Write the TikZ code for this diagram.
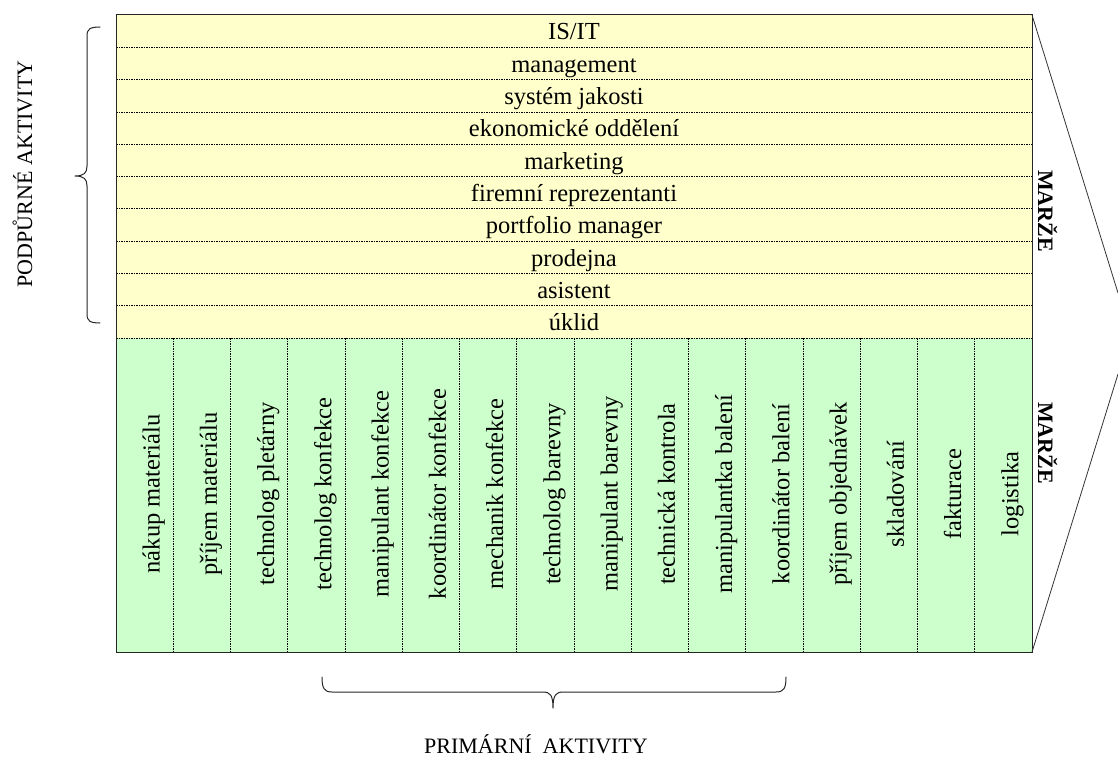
\documentclass[tikz,border=0pt]{standalone}
\usepackage{fontspec}
\setmainfont{Liberation Serif}
\definecolor{suppfill}{HTML}{FFFFCC}
\definecolor{primfill}{HTML}{CCFFCC}
\begin{document}
\begin{tikzpicture}[x=1pt,y=-1pt,
  sep/.style={dash pattern=on 1.5pt off 1pt, line width=0.7pt},
  rowtext/.style={anchor=base, font=\fontsize{24.5}{28}\selectfont, inner sep=0pt},
  coltext/.style={rowtext, rotate=90},
  marze/.style={anchor=base, rotate=-90, font=\fontsize{22}{26}\selectfont\bfseries, inner sep=0pt},
  sidetext/.style={anchor=base, font=\fontsize{22}{26}\selectfont, inner sep=0pt},
  bracepath/.style={line width=1pt, line join=round, line cap=round, draw=black!85},
  chev/.style={line width=0.8pt, draw=black!80}]
\useasboundingbox (0,0) rectangle (1118,757);
% fills
\fill[suppfill] (116,15) rectangle (1032,338);
\fill[primfill] (116,338) rectangle (1032,652);
% separators
\foreach \i in {1,...,10} \draw[sep] (116,15+32.3*\i) -- (1032,15+32.3*\i);
\foreach \i in {1,...,15} \draw[sep] (116+57.25*\i,338) -- (116+57.25*\i,652);
% frame
\draw[line width=1pt, draw=black!85] (116,15) rectangle (1032,652);
% support activities
\foreach [count=\i from 0] \t in {IS/IT, management, systém jakosti, ekonomické oddělení, marketing, firemní reprezentanti, portfolio manager, prodejna, asistent, úklid}
  \node[rowtext] (s\i) at (574,15+32.3*\i+25) {\t};
% primary activities
\foreach [count=\i from 0] \t in {nákup materiálu, příjem materiálu, technolog pletárny, technolog konfekce, manipulant konfekce, koordinátor konfekce, mechanik konfekce, technolog barevny, manipulant barevny, technická kontrola, manipulantka balení, koordinátor balení, příjem objednávek, skladování, fakturace, logistika}
  \node[coltext] (p\i) at (116+57.25*\i+28.6+15,494) {\t};
% margin labels
\node[marze] (m1) at (1038,211) {MARŽE};
\node[marze] (m2) at (1038,443) {MARŽE};
% chevron
\coordinate (c1) at (1032,15);
\coordinate (c2) at (1118,293);
\coordinate (c3) at (1118,374);
\coordinate (c4) at (1032,652);
\draw[chev] (c1) -- (c2);
\draw[chev] (c3) -- (c4);
% left brace
\draw[bracepath] (100,27) .. controls (90,27) and (87,29) .. (87,36) -- (87,166)
  .. controls (87,173) and (84,176) .. (75,176)
  .. controls (84,176) and (87,179) .. (87,186) -- (87,314)
  .. controls (87,321) and (90,323) .. (100,323);
\node[sidetext, rotate=90] (podp) at (32,174) {PODPŮRNÉ AKTIVITY};
% bottom brace
\draw[bracepath] (322,677) .. controls (322,688) and (324,692) .. (332,692) -- (543,692)
  .. controls (550,692) and (553,695) .. (553,708)
  .. controls (553,695) and (556,692) .. (563,692) -- (776,692)
  .. controls (784,692) and (786,688) .. (786,677);
\node[sidetext] (primtext) at (536,753) {PRIMÁRNÍ\ \ AKTIVITY};
\end{tikzpicture}
\end{document}
